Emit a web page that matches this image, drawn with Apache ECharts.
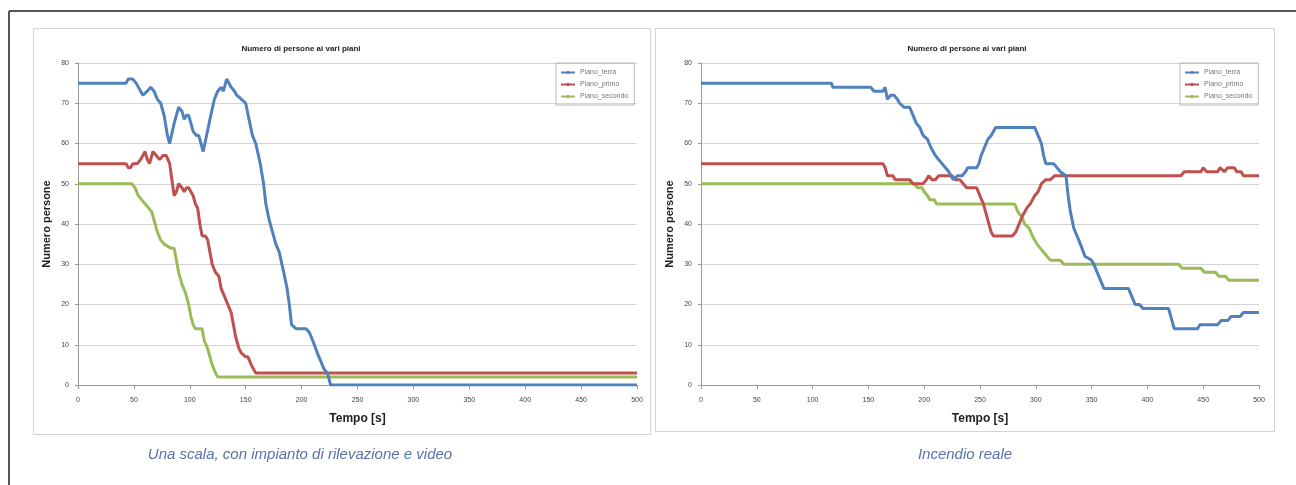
<!DOCTYPE html>
<html>
<head>
<meta charset="utf-8">
<script src="https://cdn.jsdelivr.net/npm/echarts@6/dist/echarts.min.js"></script>
<style>
  html, body { margin: 0; padding: 0; background: #fff; }
  #chart { width: 1296px; height: 485px; }
</style>
</head>
<body>
<div id="chart"></div>
<script>
// legend names
const seriesNames = ['Piano_terra', 'Piano_primo', 'Piano_secondo'];
const xTicks = [0, 50, 100, 150, 200, 250, 300, 350, 400, 450, 500];
const yTicks = [0, 10, 20, 30, 40, 50, 60, 70, 80];

// Una scala, con impianto di rilevazione e video  -> [tempo s, persone]
const scalaTerra = [[0,75],[43,75],[45,76],[49,76],[52,75],[58,72],[62,73],[65,74],[68,73],[71,71],[74,70],[77,67],[80,62],[82,60],[86,65],[90,69],[93,68],[95,66],[97,67],[99,67],[101,65],[103,63],[106,62],[108,62],[110,60],[112,58],[115,62],[118,66],[122,71],[125,73],[128,74],[130,73],[133,76],[137,74],[140,73],[142,72],[146,71],[150,70],[153,66],[156,62],[159,60],[163,55],[166,50],[168,45],[171,41],[174,38],[177,35],[180,33],[184,28],[187,24],[189,20],[191,15],[195,14],[204,14],[207,13],[210,11],[214,8],[217,6],[220,4],[223,3],[226,0],[500,0]];
const scalaPrimo = [[0,55],[43,55],[45,54],[47,54],[49,55],[53,55],[56,56],[60,58],[62,56],[64,55],[67,58],[70,57],[73,56],[76,57],[79,57],[82,55],[84,51],[86,47],[88,48],[90,50],[93,49],[95,48],[97,49],[99,49],[101,48],[103,47],[105,45],[107,44],[109,40],[111,37],[114,37],[116,36],[118,33],[120,30],[123,28],[126,27],[128,24],[131,22],[134,20],[137,18],[139,15],[141,12],[144,9],[146,8],[150,7],[152,7],[155,5],[159,3],[500,3]];
const scalaSecondo = [[0,50],[48,50],[51,49],[54,47],[57,46],[60,45],[63,44],[66,43],[68,41],[71,38],[74,36],[77,35],[83,34],[86,34],[88,31],[90,28],[93,25],[96,23],[99,20],[101,17],[103,15],[105,14],[111,14],[113,11],[116,9],[118,7],[120,5],[123,3],[125,2],[500,2]];

// Incendio reale  -> [tempo s, persone]
const realeTerra = [[0,75],[117,75],[118,74],[152,74],[155,73],[163,73],[165,74],[167,71],[170,72],[173,72],[176,71],[178,70],[182,69],[187,69],[190,67],[193,65],[196,64],[199,62],[203,61],[206,59],[210,57],[213,56],[216,55],[219,54],[222,53],[226,51],[230,52],[234,52],[237,53],[239,54],[247,54],[249,55],[251,57],[254,59],[257,61],[260,62],[264,64],[299,64],[302,62],[305,60],[307,57],[309,55],[316,55],[319,54],[322,53],[327,52],[329,47],[331,43],[334,39],[337,37],[340,35],[344,32],[350,31],[352,30],[355,28],[358,26],[361,24],[383,24],[386,22],[389,20],[393,20],[396,19],[419,19],[421,17],[424,14],[445,14],[447,15],[463,15],[466,16],[472,16],[475,17],[483,17],[486,18],[500,18]];
const realePrimo = [[0,55],[163,55],[165,54],[167,52],[172,52],[174,51],[187,51],[190,50],[199,50],[202,51],[204,52],[207,51],[210,51],[213,52],[225,52],[228,51],[232,51],[235,50],[238,49],[247,49],[250,47],[253,45],[256,42],[258,40],[260,38],[262,37],[279,37],[282,38],[285,40],[288,42],[292,44],[295,45],[299,47],[302,48],[305,50],[309,51],[313,51],[317,52],[322,52],[430,52],[433,53],[448,53],[450,54],[453,53],[463,53],[465,54],[469,53],[472,54],[478,54],[480,53],[484,53],[486,52],[500,52]];
const realeSecondo = [[0,50],[191,50],[194,49],[198,49],[200,48],[203,47],[205,46],[209,46],[211,45],[281,45],[284,43],[287,42],[290,40],[294,39],[297,37],[301,35],[304,34],[307,33],[310,32],[313,31],[322,31],[325,30],[328,30],[428,30],[431,29],[448,29],[451,28],[458,28],[461,28],[464,27],[470,27],[473,26],[478,26],[500,26]];

const colors = ['#4f81bd', '#c0504d', '#9bbb59'];
const chart = echarts.init(document.getElementById('chart'));

const grids = [
  { left: 78, top: 63, width: 559, height: 322 },
  { left: 701, top: 63, width: 558, height: 322 }
];

function makeX(i) {
  return {
    type: 'value', gridIndex: i, min: 0, max: 500, interval: 50,
    name: 'Tempo [s]', nameLocation: 'middle', nameGap: 28,
    nameTextStyle: { fontFamily: 'Liberation Sans', fontSize: 12, fontWeight: 'bold', color: '#222' },
    axisLine: { lineStyle: { color: '#9a9a9a' } },
    axisTick: { show: true, length: 4, lineStyle: { color: '#9a9a9a' } },
    axisLabel: { fontSize: 7, color: '#444', margin: 12, fontFamily: 'Liberation Sans',
      formatter: v => xTicks.indexOf(v) >= 0 ? String(v) : '' },
    splitLine: { show: false }
  };
}
function makeY(i) {
  return {
    type: 'value', gridIndex: i, min: 0, max: 80, interval: 10,
    name: 'Numero persone', nameLocation: 'middle', nameGap: 26,
    nameTextStyle: { fontFamily: 'Liberation Sans', fontSize: 11, fontWeight: 'bold', color: '#222' },
    axisLine: { show: true, lineStyle: { color: '#9a9a9a' } },
    axisTick: { show: true, length: 3, lineStyle: { color: '#9a9a9a' } },
    axisLabel: { fontSize: 7, color: '#444', margin: 9, fontFamily: 'Liberation Sans',
      formatter: v => yTicks.indexOf(v) >= 0 ? String(v) : '' },
    splitLine: { lineStyle: { color: '#d4d4d4', width: 1 } }
  };
}

const panelData = [[scalaTerra, scalaPrimo, scalaSecondo], [realeTerra, realePrimo, realeSecondo]];
const series = [];
panelData.forEach((set, g) => {
  set.forEach((d, k) => {
    series.push({
      type: 'line', name: seriesNames[k], xAxisIndex: g, yAxisIndex: g,
      data: d, showSymbol: false, symbol: 'diamond', symbolSize: 4,
      lineStyle: { width: 3, color: colors[k] },
      itemStyle: { color: colors[k] },
      z: 3 - k
    });
  });
});

function makeLegend(left) {
  return {
    data: seriesNames,
    orient: 'vertical', left: left, top: 63,
    padding: [6, 6, 5, 4],
    itemGap: 5, itemWidth: 14, itemHeight: 5,
    borderColor: '#b8b8b8', borderWidth: 1,
    textStyle: { fontSize: 7, color: '#777', fontFamily: 'Liberation Sans' }
  };
}

const titleStyle = { fontSize: 8, fontWeight: 'bold', color: '#222', fontFamily: 'Liberation Sans' };

const option = {
  animation: false,
  color: colors,
  title: [
    { text: 'Numero di persone ai vari piani', left: 296, top: 40, textAlign: 'center', textStyle: titleStyle },
    { text: 'Numero di persone ai vari piani', left: 962, top: 40, textAlign: 'center', textStyle: titleStyle }
  ],
  legend: [makeLegend(556), makeLegend(1180)],
  grid: grids,
  xAxis: [makeX(0), makeX(1)],
  yAxis: [makeY(0), makeY(1)],
  series: series,
  graphic: [
    { type: 'line', shape: { x1: 9, y1: 11, x2: 1296, y2: 11 }, style: { stroke: '#555', lineWidth: 2 } },
    { type: 'line', shape: { x1: 9, y1: 11, x2: 9, y2: 485 }, style: { stroke: '#555', lineWidth: 2 } },
    { type: 'rect', shape: { x: 33.5, y: 28.5, width: 617, height: 406 }, style: { fill: 'none', stroke: '#d4d4d4', lineWidth: 1 }, z: -1 },
    { type: 'rect', shape: { x: 655.5, y: 28.5, width: 619, height: 403 }, style: { fill: 'none', stroke: '#d4d4d4', lineWidth: 1 }, z: -1 },
    { type: 'text', x: 300, y: 455, style: { text: 'Una scala, con impianto di rilevazione e video', align: 'center', verticalAlign: 'middle',
      fill: '#5572ab', font: 'italic 15px "Liberation Sans"' } },
    { type: 'text', x: 965, y: 455, style: { text: 'Incendio reale', align: 'center', verticalAlign: 'middle',
      fill: '#5572ab', font: 'italic 15px "Liberation Sans"' } }
  ]
};
chart.setOption(option);
</script>
</body>
</html>
